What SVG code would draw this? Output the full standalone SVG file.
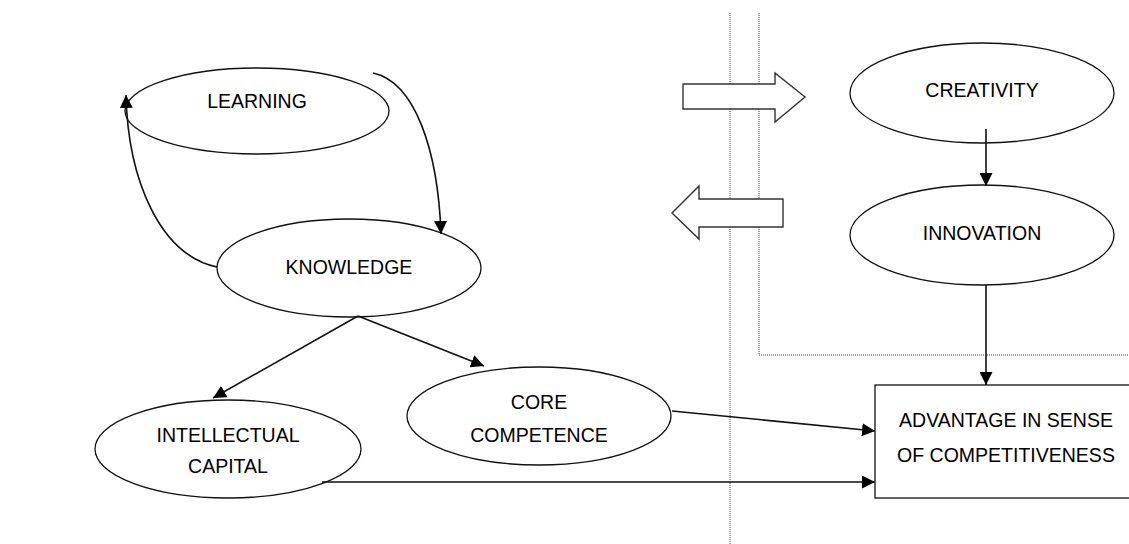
<svg xmlns="http://www.w3.org/2000/svg" width="1129" height="544" viewBox="0 0 1129 544">
  <style>
    .node { fill: #fff; stroke: #111; stroke-width: 1.3; }
    .lbl { font-family: "Liberation Sans", Arial, sans-serif; font-size: 19.5px; fill: #000; text-anchor: middle; dominant-baseline: central; }
    .edge { fill: none; stroke: #111; stroke-width: 1.6; }
    .dot { fill: none; stroke: #444; stroke-width: 1; stroke-dasharray: 1 1; }
    .block { fill: #fff; stroke: #333; stroke-width: 1.4; }
  </style>
  <defs>
    <marker id="ah" viewBox="0 0 13 13" refX="13" refY="6.5" markerWidth="13" markerHeight="13" markerUnits="userSpaceOnUse" orient="auto">
      <path d="M0,0 L13,6.5 L0,13 Z" fill="#000"/>
    </marker>
  </defs>

  <rect width="1129" height="544" fill="#fff"/>

  <!-- dotted boundaries -->
  <g id="boundaries">
    <line class="dot" x1="730" y1="13" x2="730" y2="544"/>
    <polyline class="dot" points="759,13 759,355 1129,355"/>
  </g>

  <!-- block arrows between the two zones -->
  <g id="exchange">
    <path class="block" d="M683,84 L775,84 L775,73 L805,97 L775,122 L775,109 L683,109 Z"/>
    <path class="block" d="M783,199 L699,199 L699,186 L672,213 L699,239 L699,227 L783,227 Z"/>
  </g>

  <g id="learning">
    <ellipse class="node" cx="257" cy="111" rx="132" ry="43"/>
    <text class="lbl" x="257" y="101">LEARNING</text>
  </g>

  <g id="knowledge">
    <ellipse class="node" cx="349" cy="268" rx="132" ry="49"/>
    <text class="lbl" x="349" y="267">KNOWLEDGE</text>
  </g>

  <g id="intellectual-capital">
    <ellipse class="node" cx="228" cy="449" rx="133" ry="49"/>
    <text class="lbl" x="228" y="435">INTELLECTUAL</text>
    <text class="lbl" x="228" y="466">CAPITAL</text>
  </g>

  <g id="core-competence">
    <ellipse class="node" cx="539" cy="416" rx="132" ry="49"/>
    <text class="lbl" x="539" y="402">CORE</text>
    <text class="lbl" x="539" y="435">COMPETENCE</text>
  </g>

  <g id="creativity">
    <ellipse class="node" cx="982" cy="93" rx="132" ry="50"/>
    <text class="lbl" x="982" y="90">CREATIVITY</text>
  </g>

  <g id="innovation">
    <ellipse class="node" cx="982" cy="235" rx="132" ry="50"/>
    <text class="lbl" x="982" y="233">INNOVATION</text>
  </g>

  <g id="advantage">
    <rect class="node" x="875" y="385" width="262" height="113"/>
    <text class="lbl" x="1006" y="420">ADVANTAGE IN SENSE</text>
    <text class="lbl" x="1006" y="455">OF COMPETITIVENESS</text>
  </g>

  <!-- connectors -->
  <g id="connectors">
    <path class="edge" d="M373,73 C415,82 438,150 441,234" marker-end="url(#ah)"/>
    <path class="edge" d="M217,267 C160,255 128,180 126,95" marker-end="url(#ah)"/>
    <line class="edge" x1="358" y1="316" x2="213" y2="398" marker-end="url(#ah)"/>
    <line class="edge" x1="358" y1="316" x2="484" y2="366" marker-end="url(#ah)"/>
    <line class="edge" x1="986" y1="129" x2="986" y2="186" marker-end="url(#ah)"/>
    <line class="edge" x1="986" y1="285" x2="986" y2="385" marker-end="url(#ah)"/>
    <line class="edge" x1="672" y1="411" x2="875" y2="431" marker-end="url(#ah)"/>
    <line class="edge" x1="322" y1="482" x2="875" y2="482" marker-end="url(#ah)"/>
  </g>
</svg>
